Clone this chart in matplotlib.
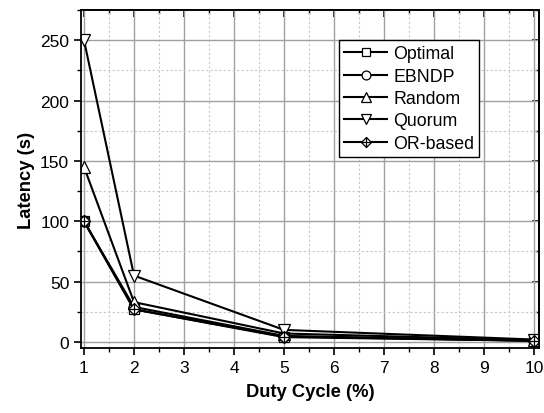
import matplotlib
matplotlib.use('Agg')
import matplotlib.pyplot as plt
from matplotlib.path import Path
from matplotlib.ticker import MultipleLocator

plt.rcParams['font.family'] = ['Liberation Sans', 'DejaVu Sans']

dutyCycle = [1, 2, 5, 10]
optimal = [100, 27, 4, 1]
ebndp = [100, 29, 5, 1]
randomv = [145, 33, 7, 1.5]
quorum = [250, 55, 10, 2]
orBased = [100, 27, 4.5, 1]

# 菱形加十字的标记
orMarker = Path([(0, 1), (1, 0), (0, -1), (-1, 0), (0, 1),
                 (0, 1), (0, -1), (-1, 0), (1, 0)],
                [Path.MOVETO, Path.LINETO, Path.LINETO, Path.LINETO, Path.CLOSEPOLY,
                 Path.MOVETO, Path.LINETO, Path.MOVETO, Path.LINETO])

fig = plt.figure(figsize=(5.44, 4.14), dpi=100)
ax = fig.add_axes([81 / 544, 1 - 349 / 414, 458 / 544, 338 / 414])

series = [('Optimal', optimal, 's', 6.5),
          ('EBNDP', ebndp, 'o', 7.5),
          ('Random', randomv, '^', 8),
          ('Quorum', quorum, 'v', 8),
          ('OR-based', orBased, orMarker, 8.5)]
for name, vals, mk, ms in series:
    ax.plot(dutyCycle, vals, color='black', lw=1.5, marker=mk, markersize=ms,
            markerfacecolor='white', markeredgecolor='black', markeredgewidth=0.9,
            label=name)

ax.set_xlim(0.94, 10.1)
ax.set_ylim(-5, 275)
ax.xaxis.set_major_locator(MultipleLocator(1))
ax.xaxis.set_minor_locator(MultipleLocator(0.5))
ax.yaxis.set_major_locator(MultipleLocator(50))
ax.yaxis.set_minor_locator(MultipleLocator(25))
ax.grid(which='major', color='#a0a0a0', lw=1.0)
ax.grid(which='minor', color='#c8c8c8', lw=0.8, ls=(0, (2, 2)))
ax.set_axisbelow(True)

ax.tick_params(which='both', direction='out', labelsize=12.5, top=False, right=False)
ax.tick_params(which='major', length=5, width=1.2)
ax.tick_params(which='minor', length=3, width=1.0)
# 上、右两侧的刻度朝内
sec = ax.secondary_xaxis('top')
sec.xaxis.set_major_locator(MultipleLocator(1))
sec.xaxis.set_minor_locator(MultipleLocator(0.5))
sec.tick_params(which='both', direction='in', labeltop=False)
sec.tick_params(which='major', length=5, width=1.2)
sec.tick_params(which='minor', length=3, width=1.0)
sec2 = ax.secondary_yaxis('right')
sec2.yaxis.set_major_locator(MultipleLocator(50))
sec2.yaxis.set_minor_locator(MultipleLocator(25))
sec2.tick_params(which='both', direction='in', labelright=False)
sec2.tick_params(which='major', length=5, width=1.2)
sec2.tick_params(which='minor', length=3, width=1.0)
for s in ax.spines.values():
    s.set_linewidth(1.3)
sec.spines['top'].set_linewidth(1.3)
sec2.spines['right'].set_linewidth(1.3)

ax.set_xlabel('Duty Cycle (%)', fontsize=13.2, fontweight='bold', labelpad=6)
ax.set_ylabel('Latency (s)', fontsize=13.2, fontweight='bold', labelpad=4)

leg = ax.legend(loc='upper left', bbox_to_anchor=(0.563, 0.911), fontsize=12.8,
                frameon=True, fancybox=False, edgecolor='black', framealpha=1,
                handlelength=2.4, handletextpad=0.35, labelspacing=0.3,
                borderpad=0.3, borderaxespad=0, markerscale=0.85)
leg.get_frame().set_linewidth(1.0)
for h in leg.legend_handles:
    h.set_linewidth(1.5)

plt.savefig('out.png', dpi=100)
